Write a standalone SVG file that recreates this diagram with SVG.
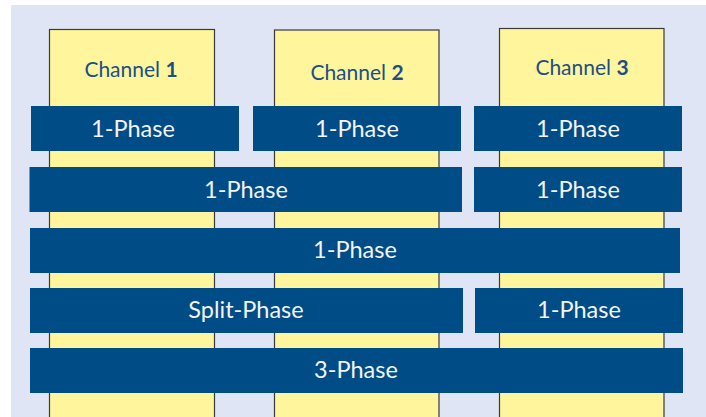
<svg xmlns="http://www.w3.org/2000/svg" width="706" height="417" viewBox="0 0 706 417">
<style>
.ch{fill:#FFF59D;stroke:#3a3a3a;stroke-width:1.2}
.cht{font-family:Lato,"Open Sans","Liberation Sans",sans-serif;font-size:21px;fill:#1B4F86;text-anchor:middle}
.cht tspan{font-weight:bold}
.bar{fill:#004C86}
.bt{font-family:Lato,"Open Sans","Liberation Sans",sans-serif;font-size:23.5px;fill:#F4F4F4;text-anchor:middle}
</style>
<rect x="0" y="0" width="706" height="417" fill="#ffffff"/>
<rect x="11" y="5" width="695" height="412" fill="#DFE5F4"/>
<g id="channel1"><rect class="ch" x="49.5" y="29.5" width="165" height="395"/><text class="cht" x="131" y="77">Channel <tspan>1</tspan></text></g>
<g id="channel2"><rect class="ch" x="274.5" y="30" width="164.5" height="395"/><text class="cht" x="357" y="80">Channel <tspan>2</tspan></text></g>
<g id="channel3"><rect class="ch" x="499.5" y="28.5" width="164.5" height="395"/><text class="cht" x="582" y="75">Channel <tspan>3</tspan></text></g>
<g id="r1a"><rect class="bar" x="31" y="106" width="208" height="45"/><text class="bt" x="133" y="137">1-Phase</text></g>
<g id="r1b"><rect class="bar" x="253" y="106" width="208" height="45"/><text class="bt" x="357" y="137">1-Phase</text></g>
<g id="r1c"><rect class="bar" x="474" y="106" width="208" height="45"/><text class="bt" x="578" y="137">1-Phase</text></g>
<g id="r2a"><rect class="bar" x="29.5" y="167" width="432.5" height="45"/><text class="bt" x="246" y="198">1-Phase</text></g>
<g id="r2b"><rect class="bar" x="474" y="167" width="208" height="45"/><text class="bt" x="578" y="198">1-Phase</text></g>
<g id="r3"><rect class="bar" x="30" y="228" width="650" height="45"/><text class="bt" x="355" y="258">1-Phase</text></g>
<g id="r4a"><rect class="bar" x="30" y="288" width="433" height="45"/><text class="bt" x="246" y="318">Split-Phase</text></g>
<g id="r4b"><rect class="bar" x="475" y="288" width="208" height="45"/><text class="bt" x="579" y="318">1-Phase</text></g>
<g id="r5"><rect class="bar" x="30" y="348" width="653" height="45"/><text class="bt" x="356" y="378">3-Phase</text></g>
<g id="connectors"></g>
</svg>
